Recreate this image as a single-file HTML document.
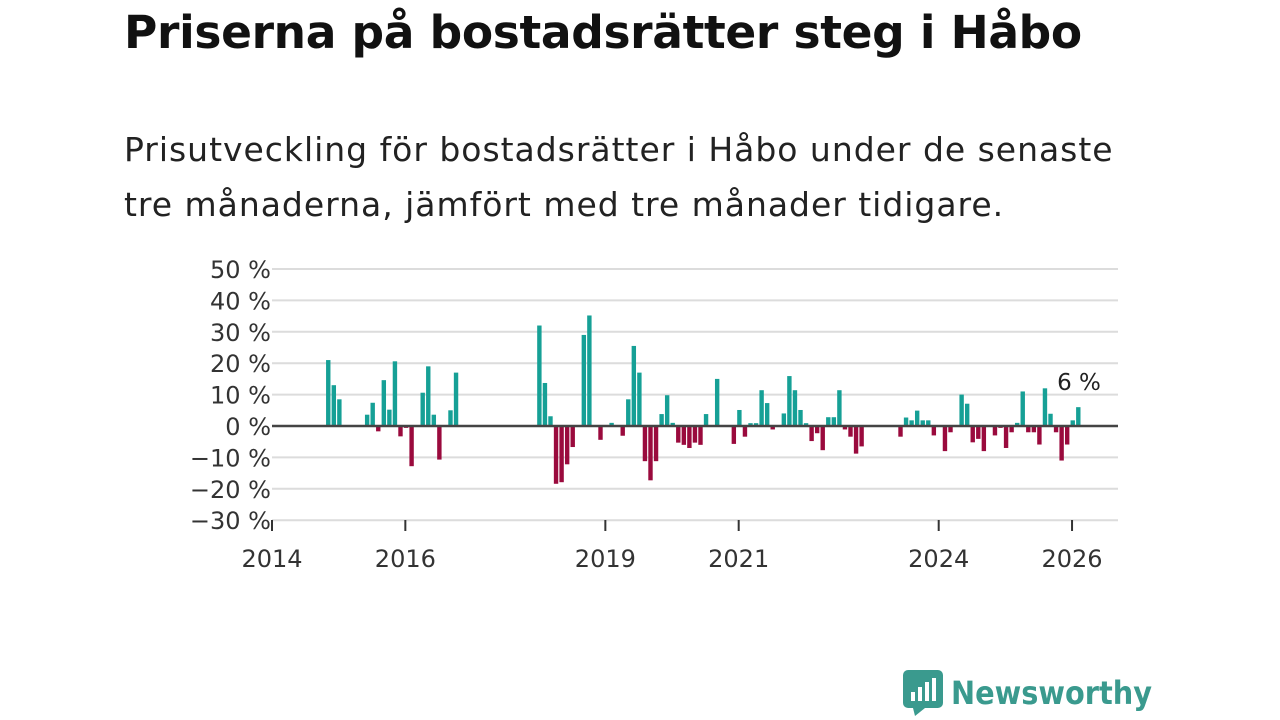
<!DOCTYPE html>
<html><head><meta charset="utf-8"><style>
body{margin:0;width:1280px;height:720px;background:#fff;overflow:hidden;font-family:"Liberation Sans","DejaVu Sans",sans-serif;position:relative}
#title{position:absolute;left:124px;top:6px;font-size:45.5px;font-weight:bold;color:#111;margin:0;font-family:"DejaVu Sans","Liberation Sans",sans-serif;letter-spacing:-0.35px}
#sub{position:absolute;left:124px;top:122px;font-size:33px;line-height:55px;color:#222;width:1010px;font-family:"DejaVu Sans","Liberation Sans",sans-serif;letter-spacing:0.98px}
svg{position:absolute;left:0;top:0}
#logo{position:absolute;left:903px;top:670px;display:flex;align-items:center}
</style></head><body>
<h1 id="title">Priserna på bostadsrätter steg i Håbo</h1>
<div id="sub">Prisutveckling för bostadsrätter i Håbo under de senaste tre månaderna, jämfört med tre månader tidigare.</div>
<svg id="chart" width="1280" height="720"></svg>
<div id="logo">
<svg width="40" height="46" style="position:static"><rect x="0" y="0" width="40" height="38" rx="5" fill="#3a9a8e"/><polygon points="10,38 22,38 12,46" fill="#3a9a8e"/><rect x="8" y="22" width="4" height="9" fill="#fff"/><rect x="15" y="17" width="4" height="14" fill="#fff"/><rect x="22" y="12" width="4" height="19" fill="#fff"/><rect x="29" y="8" width="4" height="23" fill="#fff"/></svg>
<span style="font-size:32px;font-weight:bold;color:#3a9a8e;margin-left:8px;font-family:'DejaVu Sans Condensed','Liberation Sans Narrow','Liberation Sans',sans-serif">Newsworthy</span>
</div>
<script>
const months=["2014-11","2014-12","2015-01","2015-06","2015-07","2015-08","2015-09","2015-10","2015-11","2015-12","2016-01","2016-02","2016-04","2016-05","2016-06","2016-07","2016-09","2016-10",
"2018-01","2018-02","2018-03","2018-04","2018-05","2018-06","2018-07","2018-09","2018-10","2018-12","2019-02","2019-04","2019-05","2019-06","2019-07","2019-08","2019-09","2019-10","2019-11","2019-12",
"2020-01","2020-02","2020-03","2020-04","2020-05","2020-06","2020-07","2020-09","2020-12","2021-01","2021-02","2021-03","2021-04","2021-05","2021-06","2021-07","2021-09","2021-10","2021-11","2021-12",
"2022-01","2022-02","2022-03","2022-04","2022-05","2022-06","2022-07","2022-08","2022-09","2022-10","2022-11","2023-06","2023-07","2023-08","2023-09","2023-10","2023-11","2023-12",
"2024-02","2024-03","2024-05","2024-06","2024-07","2024-08","2024-09","2024-11","2024-12","2025-01","2025-02","2025-03","2025-04","2025-05","2025-06","2025-07","2025-08","2025-09","2025-10","2025-11","2025-12","2026-01","2026-02"];
const values=[21,13,8.5,3.6,7.4,-1.7,14.6,5.2,20.6,-3.3,-0.6,-12.8,10.6,19,3.6,-10.7,5,17,
32,13.7,3.1,-18.4,-17.9,-12.2,-6.7,29,35.2,-4.4,1,-3.1,8.5,25.5,17,-11.2,-17.3,-11.2,3.8,9.8,
1,-5.3,-6,-7,-5.3,-6,3.8,15,-5.7,5.1,-3.4,0.9,0.9,11.4,7.3,-1.1,4,15.9,11.4,5.1,
0.9,-4.8,-2.3,-7.7,2.8,2.8,11.4,-1.1,-3.4,-8.8,-6.5,-3.4,2.7,1.8,4.9,1.8,1.8,-3,
-8,-2,10,7.1,-5.2,-4.1,-8,-3,-0.6,-7,-2,1,11,-2,-2,-5.9,12,3.9,-2,-11,-5.9,1.8,6];
const yTicks=[50,40,30,20,10,0,-10,-20,-30];
const xTicks=[2014,2016,2019,2021,2024,2026];
const NS="http://www.w3.org/2000/svg";
const svg=document.getElementById('chart');
function x(t){return 272+(t-2014)*66.67;}
function y(v){return 426-v*3.14;}
function mk(tag,attrs){const e=document.createElementNS(NS,tag);for(const k in attrs)e.setAttribute(k,attrs[k]);svg.appendChild(e);return e;}
yTicks.forEach(v=>{
  const g=mk('line',{x1:272,x2:1118,y1:y(v),y2:y(v),stroke:'#dcdcdc','stroke-width':2});
  
  
  const t=mk('text',{x:271,y:y(v)+9,'text-anchor':'end','font-size':24,fill:'#333','font-family':'DejaVu Sans, Liberation Sans, sans-serif'});
  t.textContent=(v<0?'\u2212'+(-v):v)+' %';
  
  
});
months.forEach((m,i)=>{
  const [yr,mo]=m.split('-').map(Number);
  const t=yr+(mo-1)/12;
  const v=values[i];
  const r=mk('rect',{x:x(t)-1.5,width:4.4,y:Math.min(y(v),y(0)),height:Math.abs(y(v)-y(0)),fill:v>=0?'#16a096':'#9a0a3d'});
  
  
});
const base=mk('line',{x1:272,x2:1118,y1:y(0),y2:y(0),stroke:'#444','stroke-width':2.5});


xTicks.forEach(v=>{
  const l=mk('line',{x1:x(v),x2:x(v),y1:520,y2:531,stroke:'#333','stroke-width':2});
  
  
  const t=mk('text',{x:x(v),y:567,'text-anchor':'middle','font-size':24,fill:'#333','font-family':'DejaVu Sans, Liberation Sans, sans-serif'});
  t.textContent=v;
  
  
});
const lv=values[values.length-1];
const lab=mk('text',{x:1079,y:390,'text-anchor':'middle','font-size':23,fill:'#222',stroke:'#fff','stroke-width':5,'paint-order':'stroke','font-family':'DejaVu Sans, Liberation Sans, sans-serif'});
lab.textContent=Math.round(lv)+' %';


</script>
</body></html>
